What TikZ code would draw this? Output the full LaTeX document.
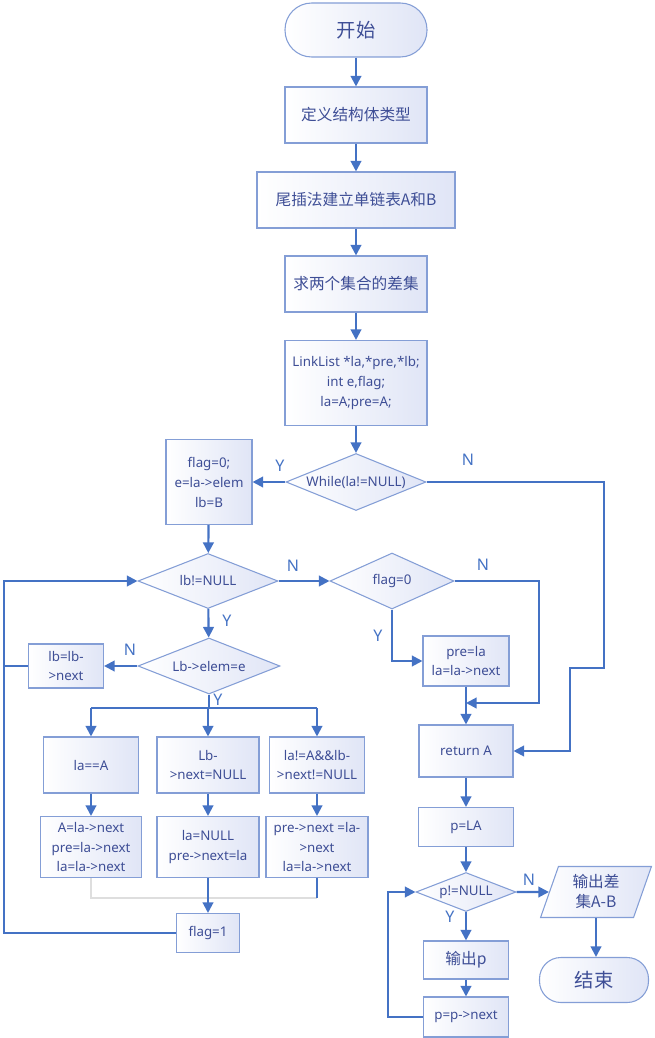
\documentclass[tikz,border=0pt]{standalone}
\usepackage{fontspec}
\setmainfont{Noto Sans}
\newfontfamily\cjk{Noto Sans CJK SC}
\usetikzlibrary{arrows.meta,shapes.geometric}
\definecolor{lineblue}{RGB}{68,114,196}
\definecolor{edgeblue}{RGB}{132,158,214}
\definecolor{boxfill}{RGB}{224,229,246}
\definecolor{textblue}{RGB}{62,78,150}
\definecolor{palegray}{RGB}{222,222,222}

\begin{document}
\begin{tikzpicture}[x=0.75pt,y=-0.75pt,
    box/.style={draw=edgeblue,line width=0.8pt,left color=white,right color=boxfill,text=textblue,align=center,inner sep=1pt,font=\fontsize{10}{14.5}\selectfont},
    cn/.style={font=\cjk\fontsize{11.75}{15}\selectfont},
    term/.style={box,font=\cjk\fontsize{14.5}{16}\selectfont},
    cond/.style={box,diamond,inner sep=0pt},
    io/.style={box,trapezium,trapezium left angle=72,trapezium right angle=108,trapezium stretches=true,inner sep=0pt},
    flow/.style={draw=lineblue,line width=1.6pt,-{Triangle[length=8pt,width=8pt]}},
    link/.style={draw=lineblue,line width=1.6pt},
    yn/.style={text=lineblue,font=\fontsize{12}{14}\selectfont}]
    \useasboundingbox (0,0) rectangle (654,1038);
    \node[term,rounded corners=20pt,minimum width=106.5pt,minimum height=40.5pt] (start) at (356,30) {开始};
    \node[box,cn,minimum width=106.5pt,minimum height=42pt] (def) at (356,115) {定义结构体类型};
    \node[box,cn,minimum width=148.5pt,minimum height=42pt] (tail) at (356,200) {尾插法建立单链表A和B};
    \node[box,cn,minimum width=106.5pt,minimum height=42pt] (diff) at (356,284) {求两个集合的差集};
    \node[box,font=\fontsize{10}{15}\selectfont,minimum width=106.5pt,minimum height=63.75pt] (decl) at (356,383) {LinkList *la,*pre,*lb;\\int e,flag;\\la=A;pre=A;};
    \node[cond,aspect=2.46,minimum width=105pt,minimum height=42.75pt] (while) at (356,482) {While(la!=NULL)};
    \node[box,font=\fontsize{10}{15}\selectfont,minimum width=64.5pt,minimum height=63.75pt] (init) at (209,482) {flag=0;\\e=la->elem\\lb=B};
    \node[cond,aspect=2.55,minimum width=105pt,minimum height=41.25pt] (lbnull) at (208,581) {lb!=NULL};
    \node[cond,aspect=2.2,minimum width=93pt,minimum height=42pt] (flagz) at (392,581) {flag=0};
    \node[box,minimum width=64.5pt,minimum height=37.5pt] (prela) at (466,661) {pre=la\\la=la->next};
    \node[box,minimum width=70.5pt,minimum height=39pt] (ret) at (466,751) {return A};
    \node[cond,aspect=2.5,minimum width=106.5pt,minimum height=42pt] (elem) at (209,666) {Lb->elem=e};
    \node[box,minimum width=56.25pt,minimum height=33pt] (lbnext) at (66,666) {lb=lb-\\>next};
    \node[box,minimum width=71.25pt,minimum height=42pt] (caseA) at (91,765) {la==A};
    \node[box,minimum width=76.5pt,minimum height=42pt] (caseB) at (208,765) {Lb-\\>next=NULL};
    \node[box,minimum width=71.25pt,minimum height=42pt] (caseC) at (317,765) {la!=A\&\&lb-\\>next!=NULL};
    \node[box,minimum width=75.75pt,minimum height=45.75pt] (doA) at (91,847) {A=la->next\\pre=la->next\\la=la->next};
    \node[box,minimum width=76.5pt,minimum height=45.75pt] (doB) at (208,847) {la=NULL\\pre->next=la};
    \node[box,minimum width=76.5pt,minimum height=45.75pt] (doC) at (317,847) {pre->next =la-\\>next\\la=la->next};
    \node[box,minimum width=47.25pt,minimum height=29.25pt] (flagone) at (208,933) {flag=1};
    \node[box,minimum width=71.25pt,minimum height=29.25pt] (pla) at (466,827) {p=LA};
    \node[cond,aspect=2.56,minimum width=75pt,minimum height=29.25pt] (pnull) at (466,892) {p!=NULL};
    \node[io,cn,minimum width=83.25pt,minimum height=38.25pt] (out) at (596,892) {输出差\\集A-B};
    \node[term,rounded corners=16pt,minimum width=81.75pt,minimum height=33.75pt] (stop) at (594,980) {结束};
    \node[box,cn,minimum width=63.75pt,minimum height=28.5pt] (outp) at (466,960) {输出p};
    \node[box,minimum width=63.75pt,minimum height=30pt] (pnext) at (466,1017) {p=p->next};
    \draw[flow] (start) -- (def);
    \draw[flow] (def) -- (tail);
    \draw[flow] (tail) -- (diff);
    \draw[flow] (diff) -- (decl);
    \draw[flow] (decl) -- (while);
    \draw[flow] (while) -- (init);
    \draw[flow] (while.east) -| (604,668) -- (570,668) |- (ret.east);
    \draw[flow] (init) -- (lbnull);
    \draw[flow] (lbnull) -- (flagz);
    \draw[flow] (flagz.south) |- (prela.west);
    \coordinate (join) at (466,703);
    \draw[flow] (flagz.east) -| (539,703) -- (join);
    \draw[flow] (prela) -- (ret);
    \draw[flow] (lbnull) -- (elem);
    \draw[flow] (elem) -- (lbnext);
    \coordinate (fork) at (209,708);
    \draw[link] (elem.south) -- (fork);
    \draw[link] (caseA.north |- fork) -- (caseC.north |- fork);
    \draw[flow] (caseA.north |- fork) -- (caseA);
    \draw[flow] (caseB.north |- fork) -- (caseB);
    \draw[flow] (caseC.north |- fork) -- (caseC);
    \draw[flow] (caseA) -- (doA);
    \draw[flow] (caseB) -- (doB);
    \draw[flow] (caseC) -- (doC);
    \coordinate (gather) at (317,898);
    \draw[palegray,line width=0.8pt] (doA.south) |- (gather);
    \draw[link] (doC.south) -- (gather);
    \draw[flow] (doB) -- (flagone);
    \draw[link] (lbnext.west) -- (4,666);
    \draw[flow] (flagone.west) -- (4,933) |- (lbnull.west);
    \draw[flow] (ret) -- (pla);
    \draw[flow] (pla) -- (pnull);
    \draw[flow] (pnull) -- (out);
    \draw[flow] (out.south) -- (out.south |- stop.north);
    \draw[flow] (pnull) -- (outp);
    \draw[flow] (outp) -- (pnext);
    \draw[flow] (pnext.west) -| (388,892) -- (pnull.west);
    \node[yn] (y1) at (280,466) {Y};
    \node[yn] (n1) at (468,460) {N};
    \node[yn] (n2) at (293,566) {N};
    \node[yn] (n3) at (483,565) {N};
    \node[yn] (y2) at (378,636) {Y};
    \node[yn] (y3) at (227,621) {Y};
    \node[yn] (n4) at (130,650) {N};
    \node[yn] (y4) at (218,700) {Y};
    \node[yn] (n5) at (529,880) {N};
    \node[yn] (y5) at (450,917) {Y};
\end{tikzpicture}
\end{document}
